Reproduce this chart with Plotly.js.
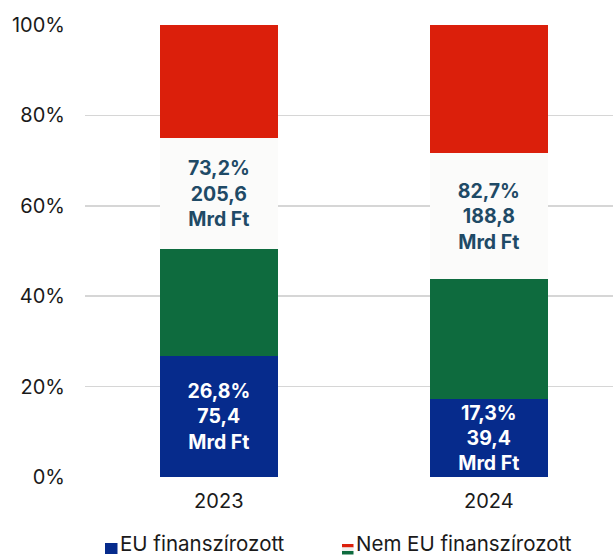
<!DOCTYPE html>
<html>
<head>
<meta charset="utf-8">
<script src="https://cdn.plot.ly/plotly-3.0.1.min.js"></script>
<style>html,body{margin:0;padding:0;background:#fff}#chart{width:613px;height:557px}</style>
</head>
<body>
<div id="chart"></div>
<script>
// Data
const years = ['2023', '2024'];
const euShare = [26.8, 17.3];          // % EU financed
const euAmount = [75.4, 39.4];         // Mrd Ft
const nonEuShare = [73.2, 82.7];       // % non-EU financed
const nonEuAmount = [205.6, 188.8];    // Mrd Ft
// non-EU part drawn as Hungarian flag stripes
const flagGreen = [23.6, 26.4];
const flagWhite = [24.5, 27.9];
const flagRed = [25.1, 28.4];
const yTicks = [0, 20, 40, 60, 80, 100];
const yTickText = ['0%', '20%', '40%', '60%', '80%', '100%'];
const legendNames = ['EU finanszírozott', 'Nem EU finanszírozott'];

const hu = v => v.toFixed(1).replace('.', ',');
const euText = euShare.map((s, i) => hu(s) + '%<br>' + hu(euAmount[i]) + '<br>Mrd Ft');
const nonEuText = nonEuShare.map((s, i) => hu(s) + '%<br>' + hu(nonEuAmount[i]) + '<br>Mrd Ft');

const FONT = 'Inter, "Open Sans", sans-serif';
const barW = 0.436;
const common = {type: 'bar', x: years, width: barW, showlegend: false, hoverinfo: 'skip',
  textposition: 'inside', insidetextanchor: 'middle', textangle: 0, constraintext: 'none'};

const traces = [
  Object.assign({}, common, {y: euShare, marker: {color: '#062b8c', line: {width: 0}},
    text: euText, textfont: {family: FONT, size: 19.5, color: '#ffffff', weight: 700}}),
  Object.assign({}, common, {y: flagGreen, marker: {color: '#0e6b3e', line: {width: 0}}}),
  Object.assign({}, common, {y: flagWhite, marker: {color: '#fbfbfa', line: {width: 0}},
    text: nonEuText, textfont: {family: FONT, size: 19.5, color: '#1f4a66', weight: 700}}),
  Object.assign({}, common, {y: flagRed, marker: {color: '#db1f0b', line: {width: 0}}})
];

// paper coordinate helpers (plot area: x 85..613, y 25..477)
const px = x => (x - 85) / 528;
const py = y => (477 - y) / 452;

const layout = {
  width: 613, height: 557,
  margin: {l: 85, r: 0, t: 25, b: 80},
  barmode: 'stack',
  paper_bgcolor: '#ffffff', plot_bgcolor: '#ffffff',
  font: {family: FONT, size: 19, color: '#1a1a1a'},
  showlegend: false,
  xaxis: {type: 'category', range: [-0.4956, 1.46], showgrid: false, zeroline: false,
    showline: false, ticks: 'outside', ticklen: 6, tickcolor: 'rgba(0,0,0,0)',
    tickfont: {family: FONT, size: 20, color: '#1a1a1a'}},
  yaxis: {range: [0, 100], tickmode: 'array', tickvals: yTicks, ticktext: yTickText, showgrid: true,
    gridcolor: '#d6d6d6', gridwidth: 1.5, zeroline: false, showline: false,
    ticks: 'outside', ticklen: 15, tickcolor: 'rgba(0,0,0,0)',
    tickfont: {family: FONT, size: 20, color: '#1a1a1a'}},
  shapes: [
    {type: 'rect', xref: 'paper', yref: 'paper', x0: px(105), x1: px(117.5), y0: py(554), y1: py(543),
      fillcolor: '#062b8c', line: {width: 0}},
    {type: 'rect', xref: 'paper', yref: 'paper', x0: px(342), x1: px(353.5), y0: py(547.5), y1: py(544),
      fillcolor: '#db1f0b', line: {width: 0}},
    {type: 'rect', xref: 'paper', yref: 'paper', x0: px(342), x1: px(353.5), y0: py(551), y1: py(547.5),
      fillcolor: '#f0f0ee', line: {width: 0}},
    {type: 'rect', xref: 'paper', yref: 'paper', x0: px(342), x1: px(353.5), y0: py(554.5), y1: py(551),
      fillcolor: '#0e6b3e', line: {width: 0}}
  ],
  annotations: [
    {xref: 'paper', yref: 'paper', x: px(117.5), y: py(543.5), xanchor: 'left', yanchor: 'middle',
      text: legendNames[0], showarrow: false, font: {family: FONT, size: 20.5, color: '#1a1a1a'}},
    {xref: 'paper', yref: 'paper', x: px(353.5), y: py(543.5), xanchor: 'left', yanchor: 'middle',
      text: legendNames[1], showarrow: false, font: {family: FONT, size: 20.5, color: '#1a1a1a'}}
  ]
};

Plotly.newPlot('chart', traces, layout, {displayModeBar: false, staticPlot: true});
</script>
</body>
</html>
